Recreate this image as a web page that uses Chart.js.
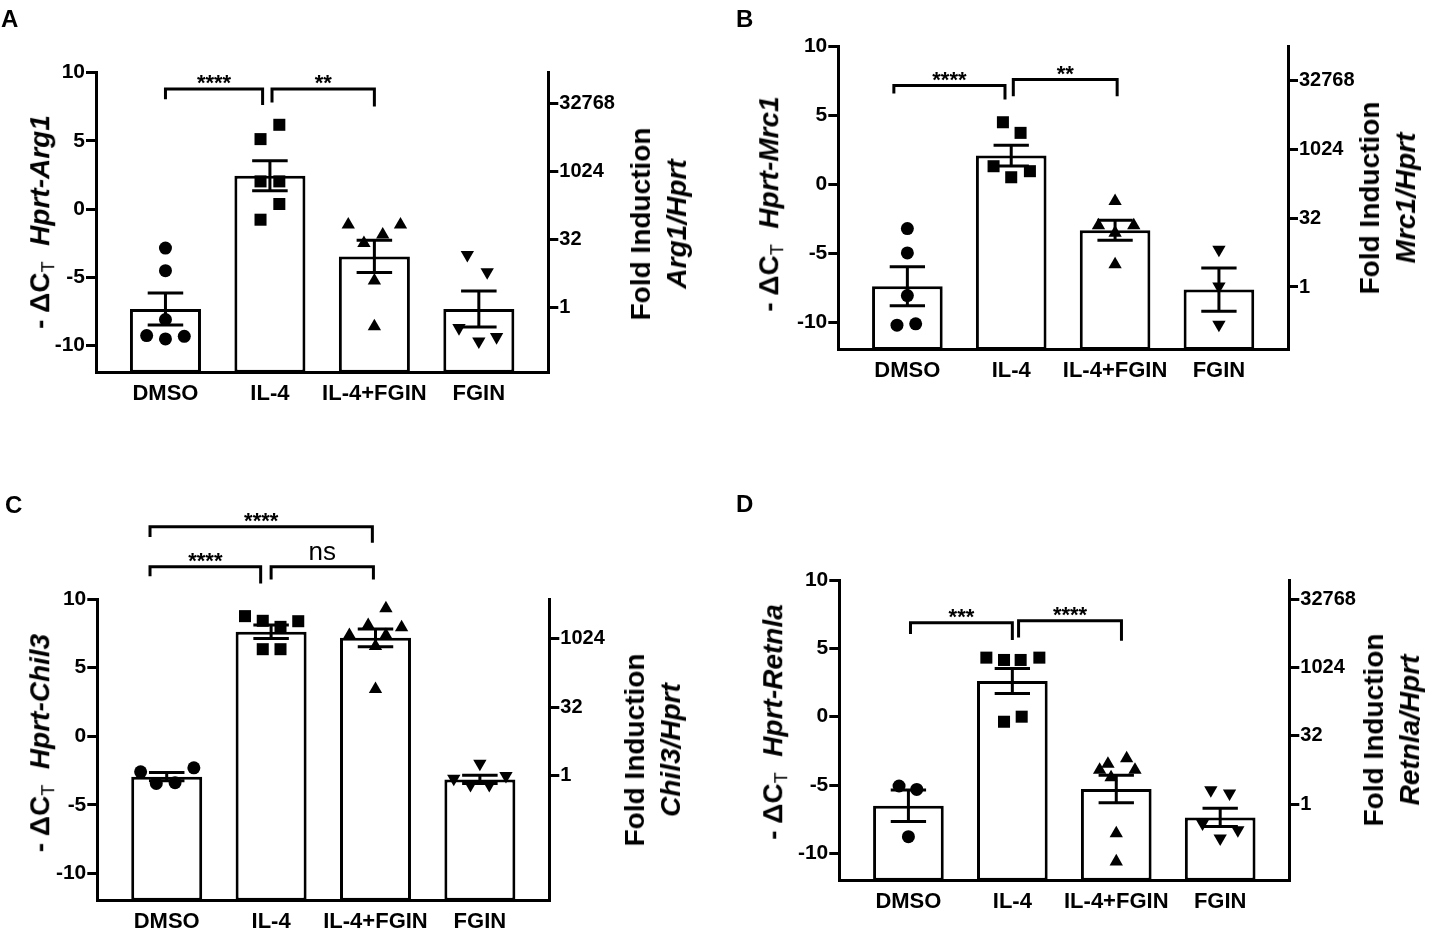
<!DOCTYPE html>
<html>
<head>
<meta charset="utf-8">
<script src="https://cdn.jsdelivr.net/npm/chart.js@4.4.0/dist/chart.umd.min.js"></script>
<style>
html, body { margin: 0; padding: 0; background: #fff; }
#page { position: relative; width: 1431px; height: 930px; overflow: hidden; font-family: "Liberation Sans", Arial, sans-serif; color: #000; }
canvas { position: absolute; left: 0; top: 0; }
.letter { position: absolute; font-weight: bold; font-size: 24px; line-height: 24px; }
.yt { position: absolute; white-space: nowrap; font-weight: bold; font-size: 28px; line-height: 36px; text-align: center; transform: translate(-50%, -50%) rotate(-90deg); }
.yt sub { font-size: 0.65em; font-weight: normal; vertical-align: -0.25em; }
</style>
</head>
<body>
<div id="page">
  <canvas id="cA" width="1431" height="930"></canvas>
  <canvas id="cB" width="1431" height="930"></canvas>
  <canvas id="cC" width="1431" height="930"></canvas>
  <canvas id="cD" width="1431" height="930"></canvas>

  <div class="letter" style="left:1px;top:7px">A</div>
  <div class="letter" style="left:736px;top:7px">B</div>
  <div class="letter" style="left:5px;top:493px">C</div>
  <div class="letter" style="left:736px;top:492px">D</div>

  <div class="yt" style="left:44px;top:222px">- ΔC<sub>T</sub>&nbsp;&nbsp;<i>Hprt-Arg1</i></div>
  <div class="yt" style="left:659px;top:224px">Fold Induction<br><i>Arg1/Hprt</i></div>
  <div class="yt" style="left:773px;top:204px">- ΔC<sub>T</sub>&nbsp;&nbsp;<i>Hprt-Mrc1</i></div>
  <div class="yt" style="left:1388px;top:198px">Fold Induction<br><i>Mrc1/Hprt</i></div>
  <div class="yt" style="left:44px;top:743px">- ΔC<sub>T</sub>&nbsp;&nbsp;<i>Hprt-Chil3</i></div>
  <div class="yt" style="left:653px;top:750px">Fold Induction<br><i>Chil3/Hprt</i></div>
  <div class="yt" style="left:777px;top:722px">- ΔC<sub>T</sub>&nbsp;&nbsp;<i>Hprt-Retnla</i></div>
  <div class="yt" style="left:1392px;top:730px">Fold Induction<br><i>Retnla/Hprt</i></div>
</div>

<script>
// Groups and axis ticks
const groups = ["DMSO", "IL-4", "IL-4+FGIN", "FGIN"];
const dctTicks = [-10, -5, 0, 5, 10];
const foldTicks = [1, 32, 1024, 32768];

// A - Arg1
const argMean = [-7.33, 2.44, -3.47, -7.33];
const argSem = [1.17, 1.10, 1.18, 1.32];
const argPts = [
    [-2.86, -4.52, -8.1, -9.28, -9.52, -9.33],
    [6.18, 5.13, 2.03, 2.03, 0.37, -0.78],
    [-1.15, -1.15, -1.88, -2.5, -5.25, -8.6],
    [-3.35, -4.62, -8.72, -9.7, -9.38]
];
const argJit = [
    [0, 0, 0, -0.18, 0, 0.18],
    [0.09, -0.09, -0.09, 0.09, 0.09, -0.09],
    [-0.25, 0.25, 0.08, -0.1, 0, 0],
    [-0.11, 0.08, -0.19, 0, 0.17]
];
const argRef = -7.25; // -dCt where fold induction = 1
const argSig = [[0, 0.93, 8.8, 8.06, 7.64, "****"], [1.02, 2, 8.8, 7.81, 7.52, "**"]];

// B - Mrc1
const mrcMean = [-7.38, 2.1, -3.31, -7.62];
const mrcSem = [1.41, 0.76, 0.73, 1.57];
const mrcPts = [
    [-3.19, -4.96, -8.05, -10.2, -10.1],
    [4.52, 3.75, 1.33, 0.97, 0.53],
    [-1.21, -2.97, -2.97, -3.5, -5.8],
    [-4.72, -7.38, -10.16]
];
const mrcJit = [
    [0, 0, 0, -0.1, 0.08],
    [-0.08, 0.09, -0.17, 0.18, 0],
    [0, -0.16, 0.18, 0, 0],
    [0, 0, 0]
];
const mrcRef = -7.43;
const mrcSig = [[-0.13, 0.94, 7.18, 6.6, 6.17, "****"], [1.02, 2.02, 7.62, 6.4, 6.4, "**"]];

// C - Chil3
const chiMean = [-2.96, 7.61, 7.17, -3.16];
const chiSem = [0.3, 0.49, 0.65, 0.3];
const chiPts = [
    [-2.6, -2.31, -3.45, -3.4],
    [8.75, 8.41, 7.97, 8.38, 6.34, 6.34],
    [9.31, 8.09, 7.36, 7.92, 7.36, 6.56, 3.43],
    [-2.0, -3.1, -2.9, -3.55, -3.55]
];
const chiJit = [
    [-0.25, 0.26, -0.1, 0.08],
    [-0.25, -0.08, 0.09, 0.26, -0.08, 0.09],
    [0.1, -0.07, -0.25, 0.25, 0.1, 0, 0],
    [0, -0.25, 0.25, -0.09, 0.09]
];
const chiRef = -2.9;
const chiSig = [[-0.16, 1.97, 15.26, 14.53, 14.1, "****"], [-0.16, 0.9, 12.35, 11.66, 11.13, "****"], [1.0, 1.98, 12.35, 11.42, 11.42, "ns"]];

// D - Retnla
const retMean = [-6.51, 2.61, -5.29, -7.37];
const retSem = [1.15, 0.92, 1.0, 0.67];
const retPts = [
    [-5.07, -5.32, -8.78],
    [4.32, 4.15, 4.15, 4.32, -0.37, 0.0],
    [-3.05, -3.46, -3.9, -3.9, -4.44, -8.54, -10.6],
    [-5.37, -5.61, -7.8, -8.29, -8.9]
];
const retJit = [
    [-0.09, 0.08, 0],
    [-0.25, -0.08, 0.08, 0.26, -0.08, 0.09],
    [0.1, -0.08, -0.16, 0.18, -0.05, 0, 0],
    [-0.09, 0.09, -0.17, 0.17, 0]
];
const retRef = -6.4;
const retSig = [[0.02, 1.0, 6.88, 6.05, 5.61, "***"], [1.06, 2.05, 7.02, 5.8, 5.56, "****"]];

const yMin = -12, yMax = 10;
const FONT = "'Liberation Sans', Arial, sans-serif";
Chart.defaults.font.family = FONT;
Chart.defaults.color = "#000";

// plot areas on the page: left, top, right, bottom
const panels = [
    { id: "cA", box: [96, 72.7, 548.3, 372.7], mean: argMean, sem: argSem, pts: argPts, jit: argJit, ref: argRef, sig: argSig },
    { id: "cB", box: [838.3, 46.7, 1288, 350], mean: mrcMean, sem: mrcSem, pts: mrcPts, jit: mrcJit, ref: mrcRef, sig: mrcSig },
    { id: "cC", box: [97.3, 599, 549.3, 900.7], mean: chiMean, sem: chiSem, pts: chiPts, jit: chiJit, ref: chiRef, sig: chiSig },
    { id: "cD", box: [839.3, 580, 1289.3, 880.7], mean: retMean, sem: retSem, pts: retPts, jit: retJit, ref: retRef, sig: retSig }
];

const shapes = ["circle", "rect", "triangle", "triangle"];
const rotations = [0, 0, 0, 180];
const radii = [6.5, 8.5, 7.7, 7.7];

function makePanel(p) {
    const [L, T, R, B] = p.box;
    const W = 1431, H = 930, wL = 70, wR = 90, hX = 40;

    const datasets = [{
        type: "bar",
        data: p.mean.map((m, i) => ({ x: i, y: m })),
        base: yMin,
        backgroundColor: "#fff",
        borderColor: "#000",
        borderWidth: 3,
        borderSkipped: false,
        barPercentage: 0.68,
        categoryPercentage: 1,
        order: 2,
        clip: false
    }];
    p.pts.forEach((vals, g) => {
        datasets.push({
            type: "scatter",
            data: vals.map((v, k) => ({ x: g + p.jit[g][k], y: v })),
            pointStyle: shapes[g],
            rotation: rotations[g],
            radius: radii[g],
            backgroundColor: "#000",
            borderColor: "#000",
            borderWidth: 0,
            order: 1,
            clip: false
        });
    });

    // error bars and significance brackets
    const marks = {
        id: "marks",
        afterDatasetsDraw(chart) {
            const { ctx, scales: { x, y } } = chart;
            const bars = chart.getDatasetMeta(0).data;
            ctx.save();
            ctx.strokeStyle = "#000";
            ctx.lineWidth = 3;
            ctx.lineCap = "butt";
            p.mean.forEach((m, i) => {
                const px = x.getPixelForValue(i);
                const half = bars[i].width * 0.25;
                const yt = y.getPixelForValue(m + p.sem[i]);
                const yb = y.getPixelForValue(m - p.sem[i]);
                ctx.beginPath();
                ctx.moveTo(px, yt); ctx.lineTo(px, yb);
                ctx.moveTo(px - half, yt); ctx.lineTo(px + half, yt);
                ctx.moveTo(px - half, yb); ctx.lineTo(px + half, yb);
                ctx.stroke();
            });
            ctx.restore();
        },
        afterDraw(chart) {
            const { ctx, scales: { x, y } } = chart;
            ctx.save();
            ctx.strokeStyle = "#000";
            ctx.fillStyle = "#000";
            ctx.lineWidth = 3;
            ctx.lineJoin = "miter";
            p.sig.forEach(([a, b, top, legA, legB, label]) => {
                const xa = x.getPixelForValue(a), xb = x.getPixelForValue(b);
                const yt = y.getPixelForValue(top);
                ctx.beginPath();
                ctx.moveTo(xa, y.getPixelForValue(legA));
                ctx.lineTo(xa, yt);
                ctx.lineTo(xb, yt);
                ctx.lineTo(xb, y.getPixelForValue(legB));
                ctx.stroke();
                const ns = label === "ns";
                ctx.font = ns ? "26px " + FONT : "bold 22px " + FONT;
                ctx.textAlign = "center";
                ctx.textBaseline = "alphabetic";
                const desc = ctx.measureText(label).actualBoundingBoxDescent;
                ctx.fillText(label, (xa + xb) / 2, yt - (ns ? 7 : 5) - desc);
            });
            ctx.restore();
        }
    };

    const tickFont = { size: 21, weight: "bold", family: FONT };

    return new Chart(document.getElementById(p.id), {
        type: "bar",
        data: { datasets },
        plugins: [marks],
        options: {
            responsive: false,
            animation: false,
            layout: { padding: { left: L - wL, top: T, right: W - R - wR, bottom: H - B - hX } },
            plugins: { legend: { display: false }, tooltip: { enabled: false } },
            scales: {
                x: {
                    type: "linear",
                    offset: false,
                    min: -0.665,
                    max: 3.665,
                    afterBuildTicks: s => { s.ticks = groups.map((g, i) => ({ value: i })); },
                    afterFit: s => { s.height = hX; },
                    ticks: { callback: v => groups[v], font: { size: 22, weight: "bold", family: FONT }, color: "#000", padding: 8, maxRotation: 0, autoSkip: false },
                    grid: { display: false, drawTicks: false, offset: false },
                    border: { display: true, width: 3, color: "#000" }
                },
                y: {
                    position: "left",
                    min: yMin,
                    max: yMax,
                    afterBuildTicks: s => { s.ticks = dctTicks.map(v => ({ value: v })); },
                    afterFit: s => { s.width = wL; },
                    ticks: { font: tickFont, color: "#000", padding: 1 },
                    grid: { drawOnChartArea: false, drawTicks: true, tickLength: 10, tickWidth: 3, tickColor: "#000", lineWidth: 3, color: "#000" },
                    border: { display: true, width: 3, color: "#000" }
                },
                y2: {
                    position: "right",
                    min: yMin - p.ref,
                    max: yMax - p.ref,
                    afterBuildTicks: s => {
                        s.ticks = foldTicks.map(f => ({ value: Math.log2(f) })).filter(t => t.value >= s.min && t.value <= s.max);
                    },
                    afterFit: s => { s.width = wR; },
                    ticks: { callback: v => String(Math.round(Math.pow(2, v))), font: { size: 20, weight: "bold", family: FONT }, color: "#000", padding: 1 },
                    grid: { drawOnChartArea: false, drawTicks: true, tickLength: 10, tickWidth: 3, tickColor: "#000", lineWidth: 3, color: "#000" },
                    border: { display: true, width: 3, color: "#000" }
                }
            }
        }
    });
}

panels.forEach(makePanel);
</script>
</body>
</html>
